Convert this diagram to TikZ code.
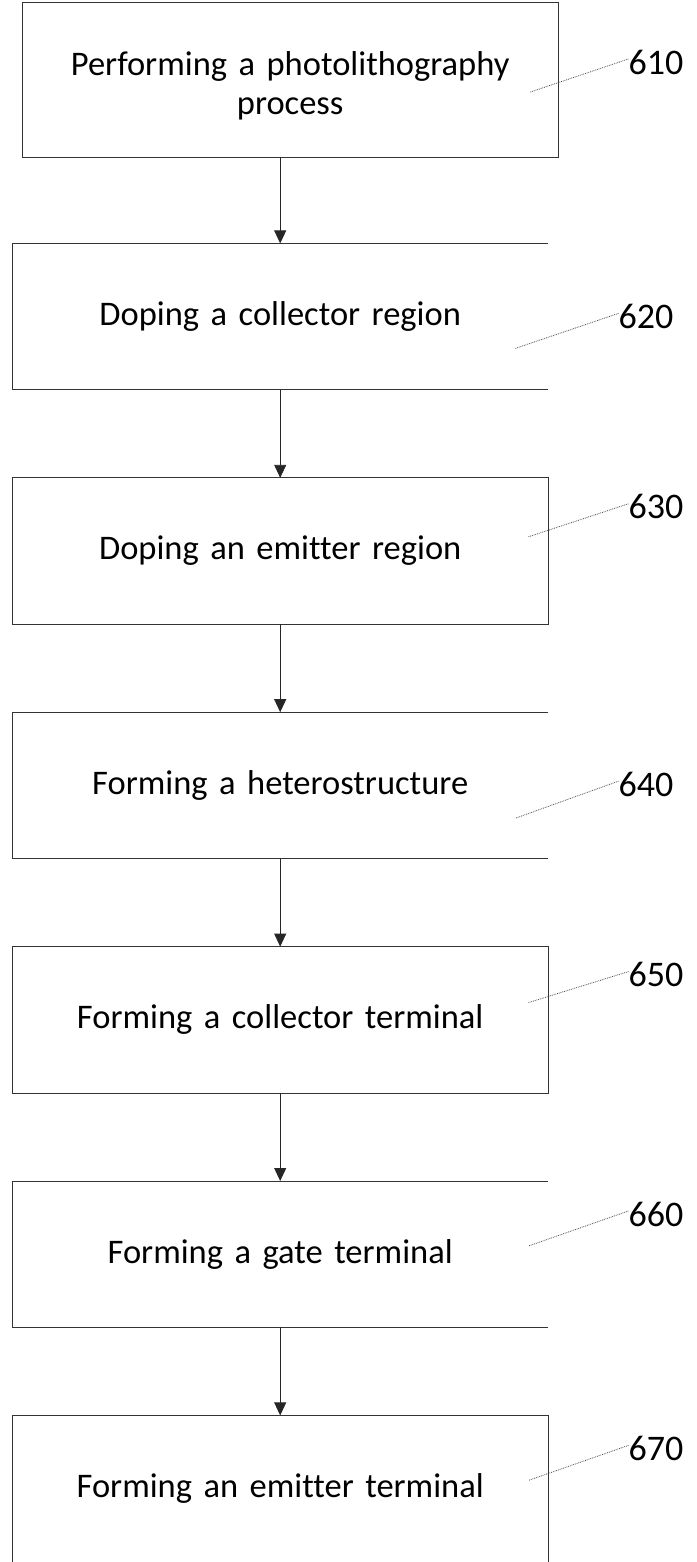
\documentclass[tikz,border=0pt]{standalone}
\usepackage{fontspec}
\setmainfont[Ligatures=NoCommon]{Carlito}
\usepackage{tikz}
\usetikzlibrary{positioning, arrows.meta}
\tikzstyle{stepbox} = [rectangle, minimum width=536pt, minimum height=146pt, text width=520pt, align=center, inner sep=0pt, font=\fontsize{34.5}{39}\selectfont]
\tikzstyle{edge} = [draw=black!80, line width=0.9pt]
\tikzstyle{arrow} = [black!85, line width=0.9pt, -{Triangle[width=12pt,length=13pt]}]
\tikzstyle{refnum} = [anchor=west, inner sep=0pt, font=\fontsize{36}{36}\selectfont]
\tikzstyle{leader} = [black!70, line width=0.8pt, densely dotted]

\begin{document}
\begin{tikzpicture}[node distance=88pt]
\node (photo) [stepbox, minimum height=155pt] {\rule{0pt}{36pt}Performing a photolithography\\process};
\node (collreg) [stepbox, below=86pt of photo, xshift=-10pt] {Doping a collector region};
\node (emitreg) [stepbox, below=of collreg] {Doping an emitter region};
\node (hetero) [stepbox, below=of emitreg] {Forming a heterostructure};
\node (collterm) [stepbox, below=of hetero] {Forming a collector terminal};
\node (gateterm) [stepbox, below=of collterm] {Forming a gate terminal};
\node (emitterm) [stepbox, below=of gateterm] {Forming an emitter terminal};

\useasboundingbox ([shift={(-22pt,2pt)}]photo.north west) rectangle ++(696pt,-1562pt);

% box outlines (some sides are missing in the figure)
\draw [edge] (photo.south west) rectangle (photo.north east);
\draw [edge] (collreg.north east) -- (collreg.north west) -- (collreg.south west) -- (collreg.south east);
\draw [edge] (emitreg.south west) rectangle (emitreg.north east);
\draw [edge] (hetero.north east) -- (hetero.north west) -- (hetero.south west) -- (hetero.south east);
\draw [edge] (collterm.south west) rectangle (collterm.north east);
\draw [edge] (gateterm.north east) -- (gateterm.north west) -- (gateterm.south west) -- (gateterm.south east);
\draw [edge] (emitterm.south west) -- (emitterm.north west) -- (emitterm.north east) -- (emitterm.south east);

\draw [arrow] (collreg.north |- photo.south) -- (collreg.north);
\draw [arrow] (collreg.south) -- (emitreg.north);
\draw [arrow] (emitreg.south) -- (hetero.north);
\draw [arrow] (hetero.south) -- (collterm.north);
\draw [arrow] (collterm.south) -- (gateterm.north);
\draw [arrow] (gateterm.south) -- (emitterm.north);

% reference numerals
\node (n610) [refnum] at ([shift={(70pt,-60pt)}]photo.north east) {610};
\node (n620) [refnum] at ([shift={(70pt,-73pt)}]collreg.north east) {620};
\node (n630) [refnum] at ([shift={(80pt,-29pt)}]emitreg.north east) {630};
\node (n640) [refnum] at ([shift={(70pt,-72pt)}]hetero.north east) {640};
\node (n650) [refnum] at ([shift={(80pt,-28pt)}]collterm.north east) {650};
\node (n660) [refnum] at ([shift={(80pt,-33pt)}]gateterm.north east) {660};
\node (n670) [refnum] at ([shift={(80pt,-33pt)}]emitterm.north east) {670};

\coordinate (t610) at ([shift={(-98pt,-30pt)}]n610.west);
\coordinate (t620) at ([shift={(-103pt,-32pt)}]n620.west);
\coordinate (t630) at ([shift={(-100pt,-30pt)}]n630.west);
\coordinate (t640) at ([shift={(-103pt,-34pt)}]n640.west);
\coordinate (t650) at ([shift={(-100pt,-28pt)}]n650.west);
\coordinate (t660) at ([shift={(-100pt,-32pt)}]n660.west);
\coordinate (t670) at ([shift={(-100pt,-32pt)}]n670.west);

\draw [leader] ([yshift=3pt]n610.west) -- (t610);
\draw [leader] ([yshift=3pt]n620.west) -- (t620);
\draw [leader] ([yshift=3pt]n630.west) -- (t630);
\draw [leader] ([yshift=3pt]n640.west) -- (t640);
\draw [leader] ([yshift=3pt]n650.west) -- (t650);
\draw [leader] ([yshift=3pt]n660.west) -- (t660);
\draw [leader] ([yshift=3pt]n670.west) -- (t670);

\end{tikzpicture}
\end{document}
